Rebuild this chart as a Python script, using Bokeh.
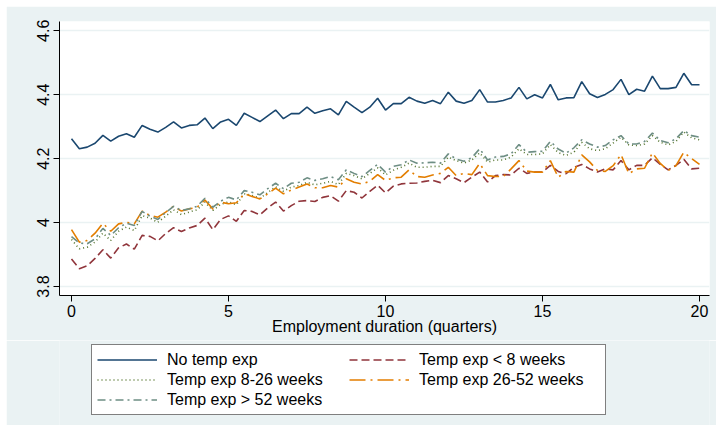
from bokeh.plotting import figure
from bokeh.layouts import column
from bokeh.models import Legend, LegendItem, FixedTicker, Range1d
from bokeh.embed import file_html
from bokeh.resources import INLINE

# Employment duration in quarters (observed every quarter of a quarter-step, 0..20)
quarters = [i / 4 for i in range(81)]

no_temp = [4.262, 4.231, 4.236, 4.248, 4.273, 4.255, 4.270, 4.278, 4.267, 4.304,
           4.292, 4.283, 4.298, 4.315, 4.296, 4.304, 4.306, 4.327, 4.294, 4.315,
           4.323, 4.304, 4.342, 4.329, 4.316, 4.334, 4.352, 4.325, 4.341, 4.341,
           4.361, 4.342, 4.350, 4.356, 4.337, 4.379, 4.361, 4.344, 4.361, 4.389,
           4.352, 4.372, 4.372, 4.392, 4.380, 4.373, 4.382, 4.372, 4.408, 4.380,
           4.373, 4.382, 4.416, 4.377, 4.377, 4.382, 4.390, 4.423, 4.387, 4.400,
           4.390, 4.432, 4.384, 4.390, 4.391, 4.441, 4.403, 4.391, 4.401, 4.416,
           4.448, 4.400, 4.417, 4.411, 4.458, 4.419, 4.419, 4.423, 4.467, 4.431,
           4.431]

lt_8 = [3.886, 3.856, 3.865, 3.888, 3.915, 3.889, 3.921, 3.933, 3.917, 3.960,
        3.957, 3.943, 3.966, 3.984, 3.972, 3.983, 3.991, 4.014, 3.978, 4.010,
        4.021, 4.004, 4.038, 4.035, 4.024, 4.046, 4.064, 4.036, 4.053, 4.067,
        4.069, 4.066, 4.079, 4.084, 4.067, 4.100, 4.095, 4.077, 4.098, 4.117,
        4.093, 4.114, 4.121, 4.123, 4.124, 4.129, 4.132, 4.125, 4.147, 4.137,
        4.125, 4.142, 4.158, 4.127, 4.147, 4.150, 4.149, 4.170, 4.154, 4.158,
        4.158, 4.179, 4.160, 4.153, 4.173, 4.182, 4.168, 4.158, 4.168, 4.165,
        4.194, 4.165, 4.179, 4.179, 4.203, 4.182, 4.165, 4.179, 4.198, 4.168,
        4.170]

w8_26 = [3.947, 3.918, 3.923, 3.939, 3.967, 3.944, 3.973, 3.986, 3.975, 4.022,
         4.014, 4.001, 4.020, 4.040, 4.025, 4.033, 4.040, 4.064, 4.038, 4.057,
         4.065, 4.056, 4.090, 4.085, 4.076, 4.094, 4.112, 4.098, 4.111, 4.116,
         4.126, 4.118, 4.123, 4.129, 4.119, 4.154, 4.147, 4.137, 4.154, 4.171,
         4.149, 4.164, 4.173, 4.186, 4.173, 4.173, 4.176, 4.176, 4.205, 4.194,
         4.186, 4.196, 4.218, 4.189, 4.196, 4.196, 4.205, 4.231, 4.213, 4.213,
         4.215, 4.244, 4.219, 4.210, 4.220, 4.251, 4.231, 4.225, 4.231, 4.249,
         4.267, 4.243, 4.241, 4.246, 4.272, 4.251, 4.243, 4.254, 4.283, 4.265,
         4.259]

w26_52 = [3.978, 3.939, 3.944, 3.967, 3.998, 3.973, 3.996, 4.001, 3.996, 4.036,
          4.022, 4.017, 4.033, 4.051, 4.036, 4.043, 4.048, 4.071, 4.043, 4.064,
          4.059, 4.062, 4.090, 4.082, 4.074, 4.090, 4.108, 4.090, 4.102, 4.111,
          4.121, 4.109, 4.109, 4.116, 4.111, 4.137, 4.126, 4.121, 4.129, 4.150,
          4.132, 4.140, 4.142, 4.165, 4.144, 4.142, 4.149, 4.154, 4.173, 4.147,
          4.154, 4.150, 4.185, 4.147, 4.144, 4.144, 4.168, 4.194, 4.161, 4.158,
          4.158, 4.194, 4.142, 4.160, 4.158, 4.212, 4.190, 4.163, 4.160, 4.178,
          4.213, 4.153, 4.168, 4.170, 4.218, 4.185, 4.163, 4.178, 4.220, 4.200,
          4.182]

gt_52 = [3.956, 3.936, 3.934, 3.949, 3.982, 3.960, 3.984, 3.998, 3.991, 4.035,
         4.020, 4.010, 4.031, 4.051, 4.038, 4.043, 4.051, 4.076, 4.048, 4.067,
         4.079, 4.071, 4.100, 4.095, 4.087, 4.106, 4.123, 4.106, 4.123, 4.126,
         4.140, 4.132, 4.137, 4.144, 4.134, 4.165, 4.154, 4.144, 4.163, 4.182,
         4.158, 4.176, 4.181, 4.196, 4.186, 4.187, 4.189, 4.186, 4.215, 4.199,
         4.192, 4.203, 4.231, 4.196, 4.205, 4.207, 4.215, 4.244, 4.220, 4.222,
         4.223, 4.254, 4.230, 4.217, 4.234, 4.259, 4.246, 4.236, 4.241, 4.259,
         4.272, 4.246, 4.246, 4.254, 4.280, 4.257, 4.250, 4.262, 4.288, 4.272,
         4.267]

x_ticks = [0, 5, 10, 15, 20]
y_ticks = [3.8, 4.0, 4.2, 4.4, 4.6]

labels = ["No temp exp", "Temp exp < 8 weeks", "Temp exp 8-26 weeks",
          "Temp exp 26-52 weeks", "Temp exp > 52 weeks"]
series = [no_temp, lt_8, w8_26, w26_52, gt_52]
colors = ["#1A476F", "#90353B", "#55752F", "#E37E00", "#6E8E84"]
dashes = ["solid", "8 4", "1 3", "16 5 2 5", "8 4 2 4"]

FONT = "Liberation Sans"
BG = "#EAF2F3"

p = figure(width=710, height=334, output_backend="svg", toolbar_location=None,
           x_range=Range1d(-0.382, 20.318), y_range=Range1d(3.772, 4.629),
           min_border_left=53, min_border_right=7, min_border_top=15,
           min_border_bottom=45)
p.margin = (6, 5, 0, 6)
p.border_fill_color = BG
p.background_fill_color = "white"
p.outline_line_color = None

for ys, c, d in zip(series, colors, dashes):
    p.line(quarters, ys, line_color=c, line_width=1.6, line_dash=d)

# axes
p.xaxis.ticker = FixedTicker(ticks=x_ticks)
p.yaxis.ticker = FixedTicker(ticks=y_ticks)
p.yaxis.major_label_overrides = {4: "4"}
p.xaxis.minor_tick_line_color = None
p.yaxis.minor_tick_line_color = None
for ax in (p.xaxis, p.yaxis):
    ax.axis_line_color = "black"
    ax.axis_line_width = 1
    ax.major_tick_line_color = "black"
    ax.major_tick_in = 0
    ax.major_tick_out = 6
    ax.major_label_text_font = FONT
    ax.major_label_text_font_size = "16px"
    ax.major_label_text_color = "black"
p.xaxis.major_label_standoff = 3
p.yaxis.major_label_standoff = 4
p.yaxis.major_label_orientation = "vertical"
p.xaxis.axis_label = "Employment duration (quarters)"
p.xaxis.axis_label_text_font = FONT
p.xaxis.axis_label_text_font_size = "16px"
p.xaxis.axis_label_text_font_style = "normal"
p.xaxis.axis_label_text_color = "black"
p.xaxis.axis_label_standoff = -2

p.xgrid.grid_line_color = None
p.ygrid.grid_line_color = BG
p.ygrid.grid_line_width = 1.5

# legend panel (separate figure below the plot)
lg = figure(width=710, height=85, output_backend="svg", toolbar_location=None,
            x_axis_type=None, y_axis_type=None,
            x_range=Range1d(0, 1), y_range=Range1d(0, 1),
            min_border_left=0, min_border_right=0, min_border_top=0,
            min_border_bottom=0)
lg.margin = (0, 5, 6, 6)
lg.border_fill_color = BG
lg.background_fill_color = BG
lg.outline_line_color = None
lg.xgrid.visible = False
lg.ygrid.visible = False

item_map = {}
for l, c, d in zip(labels, colors, dashes):
    # single off-screen point: renders nothing, only supplies the legend glyph style
    r = lg.line([2], [2], line_color=c, line_width=1.6, line_dash=d)
    item_map[l] = LegendItem(label=l, renderers=[r])

# legend fills column by column; order so rows read like the original
order = [labels[0], labels[2], labels[4], labels[1], labels[3]]
legend = Legend(items=[item_map[l] for l in order], location=(32, 10), ncols=2,
                border_line_color="black", border_line_width=1,
                background_fill_color="white", background_fill_alpha=1,
                label_text_font=FONT, label_text_font_size="16px",
                label_text_color="black",
                glyph_width=60, glyph_height=19, label_height=19,
                label_width=181,
                label_standoff=10, spacing=1, padding=5, margin=0)
lg.add_layout(legend)

layout = column(p, lg, spacing=0)
open("out.html", "w").write(file_html(layout, INLINE))
